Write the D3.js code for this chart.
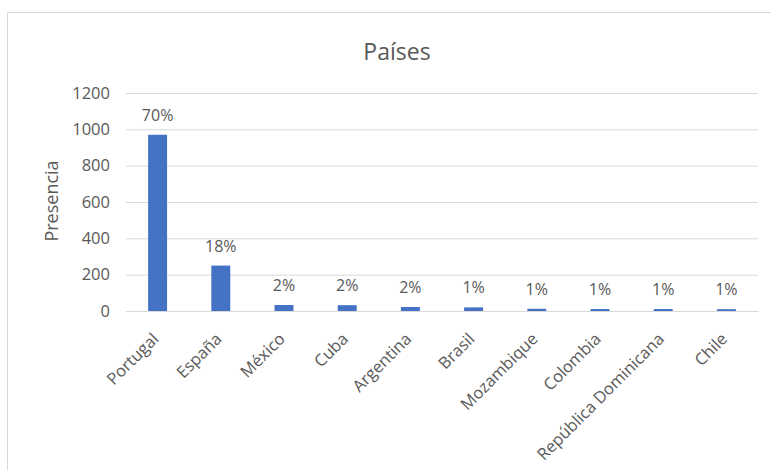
<!DOCTYPE html>
<html><head><meta charset="utf-8">
<script src="https://cdn.jsdelivr.net/npm/d3@7"></script>
<style>body{margin:0;background:#fff}svg{display:block}</style>
</head><body>
<script>
const categories = ["Portugal","España","México","Cuba","Argentina","Brasil","Mozambique","Colombia","República Dominicana","Chile"];
const values = [970, 250, 33, 32, 22, 20, 12, 11, 11, 10];
const pctLabels = ["70%","18%","2%","2%","2%","1%","1%","1%","1%","1%"];
const yTicks = [0, 200, 400, 600, 800, 1000, 1200];

const W = 771, H = 470;
const font = "'Open Sans', sans-serif";
const grey = "#595959";
const svg = d3.select("body").append("svg").attr("width", W).attr("height", H);
svg.append("rect").attr("x", 7.5).attr("y", 12.5).attr("width", W).attr("height", H)
  .attr("fill", "#fff").attr("stroke", "#d9d9d9");

const x = d3.scaleBand().domain(categories).range([126, 758]).paddingInner(0.7).paddingOuter(0.35);
const y = d3.scaleLinear().domain([0, 1200]).range([311, 93]);

svg.append("text").attr("x", 397).attr("y", 60).attr("text-anchor", "middle")
  .attr("font-family", font).attr("font-size", 23).attr("fill", grey).text("Países");

const gy = svg.append("g").attr("transform", "translate(126,0)")
  .call(d3.axisLeft(y).tickValues(yTicks).tickSize(-632).tickPadding(16).tickFormat(d3.format("d")));
gy.select(".domain").remove();
gy.selectAll(".tick line").attr("stroke", "#d9d9d9");
gy.selectAll(".tick text").attr("font-family", font).attr("font-size", 16.5).attr("fill", grey);

svg.append("text").attr("transform", "translate(58,201) rotate(-90)").attr("text-anchor", "middle")
  .attr("font-family", font).attr("font-size", 18).attr("fill", grey).text("Presencia");

svg.selectAll("rect.bar").data(categories).enter().append("rect").attr("class", "bar")
  .attr("x", d => x(d)).attr("width", x.bandwidth())
  .attr("y", (d, i) => y(values[i])).attr("height", (d, i) => y(0) - y(values[i]))
  .attr("fill", "#4472C4");

svg.selectAll("text.pct").data(categories).enter().append("text").attr("class", "pct")
  .attr("x", d => x(d) + x.bandwidth() / 2).attr("y", (d, i) => y(values[i]) - 14)
  .attr("text-anchor", "middle").attr("font-family", font).attr("font-size", 16).attr("fill", grey)
  .text((d, i) => pctLabels[i]);

const gx = svg.append("g").attr("transform", "translate(0,311)")
  .call(d3.axisBottom(x).tickSize(0).tickPadding(0));
gx.select(".domain").attr("stroke", "#d9d9d9");
gx.selectAll(".tick text").attr("font-family", font).attr("font-size", 16.5).attr("fill", grey)
  .attr("text-anchor", "end").attr("dy", null).attr("y", 0)
  .attr("transform", "translate(2,29) rotate(-45)");
</script>
</body></html>
